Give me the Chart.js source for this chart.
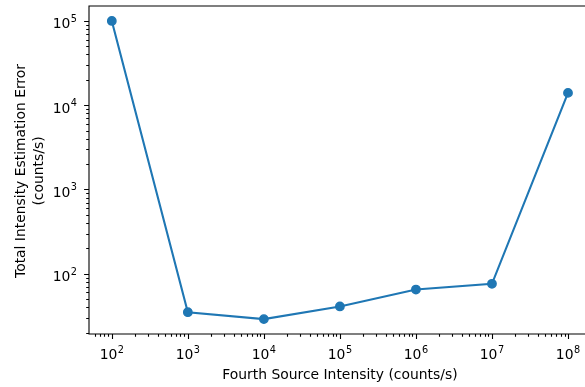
<!DOCTYPE html>
<html>
<head>
<meta charset="utf-8">
<script src="https://cdn.jsdelivr.net/npm/chart.js@4/dist/chart.umd.min.js"></script>
<style>
  html, body { margin: 0; padding: 0; background: #fff; overflow: hidden; }
  #wrap { width: 585px; height: 387px; overflow: hidden; position: relative; }
  canvas { display: block; }
</style>
</head>
<body>
<div id="wrap"><canvas id="c" width="610" height="387"></canvas></div>
<script>
// Fourth source intensity (counts/s) and the resulting total intensity estimation error (counts/s)
const sourceIntensity = [1e2, 1e3, 1e4, 1e5, 1e6, 1e7, 1e8];
const estimationError = [100000, 35, 29, 41, 65, 76, 14000];

// Decade exponents that get a labelled major tick
const xTickExponents = [2, 3, 4, 5, 6, 7, 8];
const yTickExponents = [2, 3, 4, 5];

const xTitle = 'Fourth Source Intensity (counts/s)';
const yTitle = ['Total Intensity Estimation Error', '(counts/s)'];

const FONT = '"DejaVu Sans", sans-serif';
const FS = 13.9;

function minorValues(min, max) {
  const out = [];
  for (let e = Math.floor(Math.log10(min)); e <= Math.ceil(Math.log10(max)); e++) {
    for (let k = 2; k <= 9; k++) {
      const v = k * Math.pow(10, e);
      if (v >= min && v <= max) out.push(v);
    }
  }
  return out;
}

// draws "10" with a raised exponent; anchor is 'center' or 'right'
function drawPow(ctx, exp, x, baseline, anchor) {
  ctx.font = FS + 'px ' + FONT;
  const w10 = ctx.measureText('10').width;
  const supFont = (FS * 0.7).toFixed(2) + 'px ' + FONT;
  ctx.font = supFont;
  const wSup = ctx.measureText(String(exp)).width;
  const total = w10 + wSup + 0.5;
  const left = anchor === 'center' ? x - total / 2 : x - total;
  ctx.textAlign = 'left';
  ctx.textBaseline = 'alphabetic';
  ctx.font = FS + 'px ' + FONT;
  ctx.fillText('10', left, baseline);
  ctx.font = supFont;
  ctx.fillText(String(exp), left + w10 + 0.5, baseline - 6.3);
}

const axesPlugin = {
  id: 'mplAxes',
  afterDraw(chart) {
    const { ctx, chartArea: a, scales } = chart;
    const xs = scales.x, ys = scales.y;
    ctx.save();
    ctx.fillStyle = '#000';
    ctx.strokeStyle = '#000';
    ctx.lineWidth = 1.1;

    // spines: left, top, bottom (the right one sits past the visible edge)
    ctx.beginPath();
    ctx.moveTo(a.right, a.top); ctx.lineTo(a.left, a.top);
    ctx.lineTo(a.left, a.bottom); ctx.lineTo(a.right, a.bottom);
    ctx.stroke();

    // x ticks
    ctx.beginPath();
    xTickExponents.forEach(e => {
      const px = Math.round(xs.getPixelForValue(Math.pow(10, e))) + 0.5;
      ctx.moveTo(px, a.bottom); ctx.lineTo(px, a.bottom + 4.9);
    });
    minorValues(xs.min, xs.max).forEach(v => {
      const px = Math.round(xs.getPixelForValue(v)) + 0.5;
      ctx.moveTo(px, a.bottom); ctx.lineTo(px, a.bottom + 2.8);
    });
    // y ticks
    yTickExponents.forEach(e => {
      const py = Math.round(ys.getPixelForValue(Math.pow(10, e))) + 0.5;
      ctx.moveTo(a.left, py); ctx.lineTo(a.left - 4.9, py);
    });
    minorValues(ys.min, ys.max).forEach(v => {
      const py = Math.round(ys.getPixelForValue(v)) + 0.5;
      ctx.moveTo(a.left, py); ctx.lineTo(a.left - 2.8, py);
    });
    ctx.stroke();

    // tick labels
    xTickExponents.forEach(e => {
      drawPow(ctx, e, xs.getPixelForValue(Math.pow(10, e)), a.bottom + 25, 'center');
    });
    yTickExponents.forEach(e => {
      drawPow(ctx, e, a.left - 12, ys.getPixelForValue(Math.pow(10, e)) + 7.3, 'right');
    });

    // axis titles
    ctx.font = FS + 'px ' + FONT;
    ctx.textAlign = 'center';
    ctx.textBaseline = 'alphabetic';
    ctx.fillText(xTitle, (a.left + a.right) / 2, 379);

    ctx.save();
    ctx.translate(0, (a.top + a.bottom) / 2 + 1);
    ctx.rotate(-Math.PI / 2);
    ctx.fillText(yTitle[0], 0, 25);
    ctx.fillText(yTitle[1], 0, 43);
    ctx.restore();

    ctx.restore();
  }
};

new Chart(document.getElementById('c'), {
  type: 'line',
  data: {
    labels: sourceIntensity,
    datasets: [{
      data: sourceIntensity.map((x, i) => ({ x: x, y: estimationError[i] })),
      borderColor: '#1f77b4',
      backgroundColor: '#1f77b4',
      borderWidth: 2.1,
      pointRadius: 4.2,
      pointBorderWidth: 1.4,
      pointBorderColor: '#1f77b4',
      pointHoverRadius: 4.2,
      tension: 0,
      fill: false
    }]
  },
  options: {
    responsive: false,
    animation: false,
    devicePixelRatio: 1,
    layout: { padding: { left: 89, top: 6, bottom: 53, right: 19.2 } },
    plugins: { legend: { display: false }, tooltip: { enabled: false } },
    scales: {
      x: { type: 'logarithmic', display: false, min: Math.pow(10, 1.7), max: Math.pow(10, 8.3) },
      y: { type: 'logarithmic', display: false, min: 19.3, max: 150300 }
    }
  },
  plugins: [axesPlugin]
});
</script>
</body>
</html>
